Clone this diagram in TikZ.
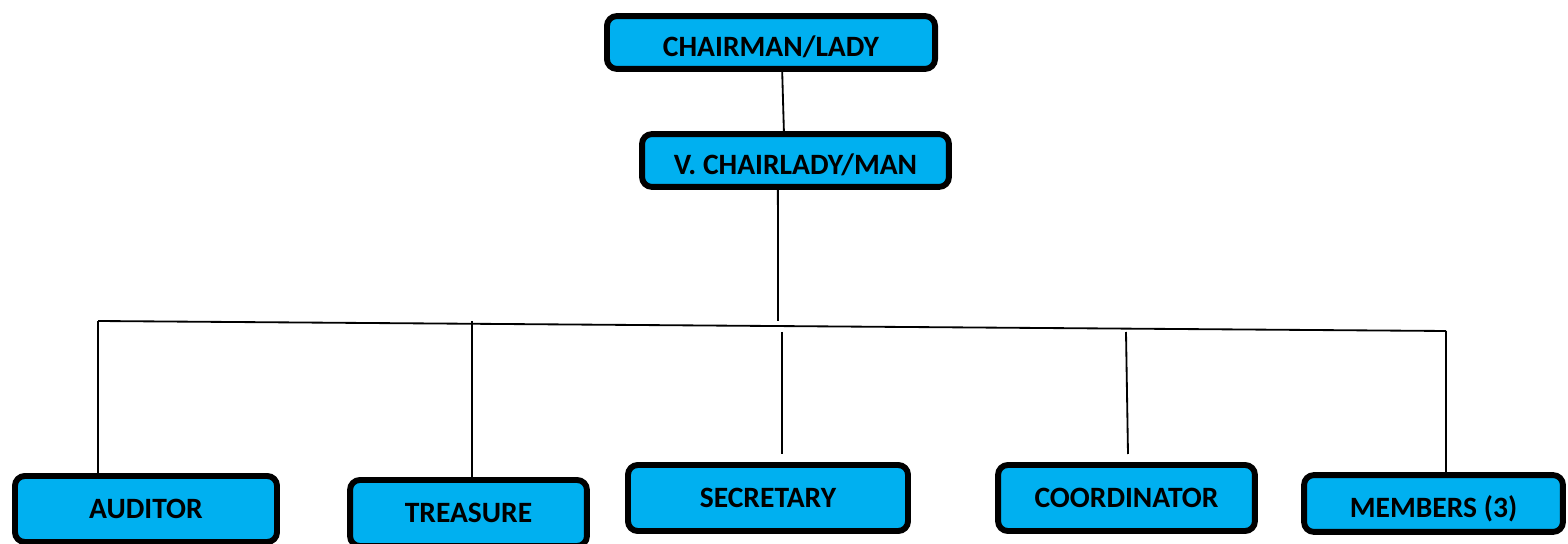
\documentclass[tikz,border=0pt]{standalone}
\usepackage{fontspec}
\setmainfont{Carlito}
\usetikzlibrary{positioning}
\definecolor{boxblue}{HTML}{00B0F0}
\tikzset{
  post/.style={draw, line width=4.2pt, rounded corners=7pt, fill=boxblue,
               font=\bfseries\fontsize{21}{25}\selectfont, inner sep=0pt},
  sunk/.style={text height=20pt, text depth=0pt},
  link/.style={line width=1.3pt}
}

\begin{document}
\begin{tikzpicture}[x=0.025cm, y=-0.025cm]
 \useasboundingbox (0,0) rectangle (1568,544);

 % Add the posts
 \node[post, sunk,
       minimum width=8.20cm,
       minimum height=1.32cm] (chair) at (771,42.5) {CHAIRMAN/LADY};
 \node[post, sunk,
       minimum width=7.67cm,
       minimum height=1.32cm] (vice) at (795.5,160.5) {V. CHAIRLADY/MAN};
 \node[post,
       minimum width=6.55cm,
       minimum height=1.65cm] (auditor) at (146,509) {AUDITOR};
 \node[post,
       minimum width=5.92cm,
       minimum height=1.65cm] (treasure) at (468.5,513) {TREASURE};
 \node[post,
       minimum width=7.00cm,
       minimum height=1.65cm] (secretary) at (768,498) {SECRETARY};
 \node[post,
       minimum width=6.42cm,
       minimum height=1.65cm] (coord) at (1126.5,498) {COORDINATOR};
 \node[post, sunk,
       minimum width=6.47cm,
       minimum height=1.42cm] (members) at (1433.5,503.5) {MEMBERS (3)};

 % Points on the bar
 \coordinate (hub) at (778,321);
 \coordinate (barL) at (98,321);
 \coordinate (barR) at (1446,331);
 \coordinate (trTop) at (472,321);
 \coordinate (secTop) at (782,332);
 \coordinate (secEnd) at (782,454);
 \coordinate (coTop) at (1126,332);
 \coordinate (coEnd) at (1128,454);

 % Connect the posts
 \draw[link] ([xshift=0.28cm]chair.south) -- ([xshift=-0.29cm]vice.north);
 \draw[link] ([xshift=-0.44cm]vice.south) -- (hub);
 \draw[link] (barL) -- (barR);
 \draw[link] (barL) -- (barL |- auditor.north);
 \draw[link] (trTop) -- (trTop |- treasure.north);
 \draw[link] (secTop) -- (secEnd);
 \draw[link] (coTop) -- (coEnd);
 \draw[link] (barR) -- (barR |- members.north);
\end{tikzpicture}
\end{document}
